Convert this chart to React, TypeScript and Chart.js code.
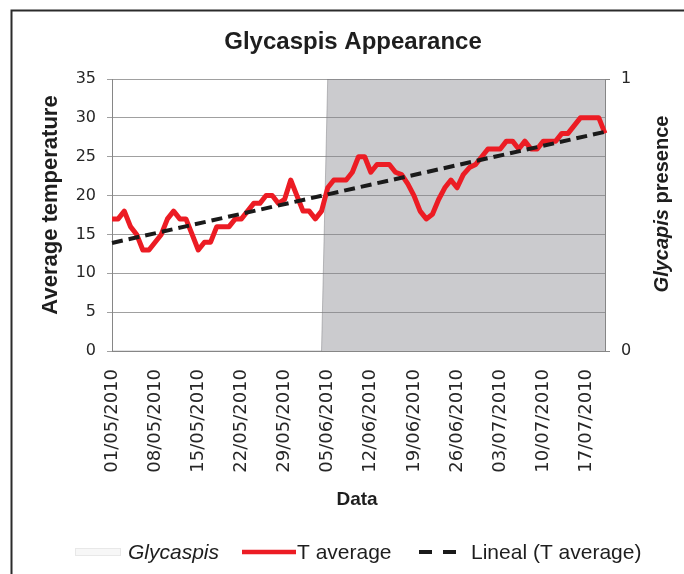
import React, { useEffect, useRef } from "react";
import { Chart, registerables } from "chart.js";

Chart.register(...registerables);

// ---- data ----
const startDay = { year: 2010, month: 5, day: 1 }; // 01/05/2010
const tAverage = [
  17, 17, 18, 16, 15, 13, 13, 14, 15, 17,
  18, 17, 17, 15, 13, 14, 14, 16, 16, 16,
  17, 17, 18, 19, 19, 20, 20, 19, 19.5, 22,
  20, 18, 18, 17, 18, 21, 22, 22, 22, 23,
  25, 25, 23, 24, 24, 24, 23, 22.7, 21.5, 20,
  18, 17, 17.6, 19.5, 21, 22, 21, 22.7, 23.6, 24,
  25, 26, 26, 26, 27, 27, 26, 27, 26, 26,
  27, 27, 27, 28, 28, 29, 30, 30, 30, 30,
  28,
];
const glycaspisFirstDate = "05/06/2010";
const trendStart = 13.9;
const trendEnd = 28.2;
const tempMin = 0;
const tempMax = 35;
const tempStep = 5;
const presenceMin = 0;
const presenceMax = 1;
const labelEvery = 7;

const titleText = "Glycaspis Appearance";
const yTitle = "Average temperature";
const y1TitleItalic = "Glycapis";
const y1TitleRest = " presence";
const xTitle = "Data";
const legendNames = ["Glycaspis", "T average", "Lineal (T average)"];

const pad = (n: number) => (n < 10 ? "0" + n : "" + n);
const dates = tAverage.map((_, i) => {
  const d = new Date(startDay.year, startDay.month - 1, startDay.day + i);
  return pad(d.getDate()) + "/" + pad(d.getMonth() + 1) + "/" + d.getFullYear();
});
const firstIdx = dates.indexOf(glycaspisFirstDate);
const glycaspisPresence = dates.map((_, i) => (i >= firstIdx ? 1 : 0));
const trend = tAverage.map((_, i) =>
  i === 0 ? trendStart : i === tAverage.length - 1 ? trendEnd : null
);

const RED = "rgb(236,28,36)";
const DARK = "#1e1e1e";
const TICK = "#262626";
const AXIS = "#868686";

const decorPlugin = {
  id: "decor",
  beforeDraw(chart: any) {
    const ctx = chart.ctx;
    ctx.save();
    ctx.fillStyle = "#ffffff";
    ctx.fillRect(0, 0, chart.width, chart.height);
    ctx.restore();
  },
  afterDraw(chart: any) {
    const ctx = chart.ctx as CanvasRenderingContext2D;
    ctx.save();
    // frame
    ctx.strokeStyle = "#2b2b2b";
    ctx.lineWidth = 2;
    ctx.strokeRect(11.5, 10.5, 720, 620);

    // title
    ctx.fillStyle = DARK;
    ctx.textBaseline = "alphabetic";
    ctx.textAlign = "center";
    ctx.font = "bold 24px 'Liberation Sans', Arial, sans-serif";
    ctx.fillText(titleText, 353, 49);

    // x title
    ctx.font = "bold 19px 'Liberation Sans', Arial, sans-serif";
    ctx.fillText(xTitle, 357, 505);

    // left y title
    ctx.save();
    ctx.translate(57, 205);
    ctx.rotate(-Math.PI / 2);
    ctx.font = "bold 22px 'Liberation Sans', Arial, sans-serif";
    ctx.textAlign = "center";
    ctx.fillText(yTitle, 0, 0);
    ctx.restore();

    // right y title (mixed italic)
    ctx.save();
    ctx.translate(668, 204);
    ctx.rotate(-Math.PI / 2);
    ctx.textAlign = "left";
    const fItal = "italic bold 20px 'Liberation Sans', Arial, sans-serif";
    const fReg = "bold 20px 'Liberation Sans', Arial, sans-serif";
    ctx.font = fItal;
    const w1 = ctx.measureText(y1TitleItalic).width;
    ctx.font = fReg;
    const w2 = ctx.measureText(y1TitleRest).width;
    const x0 = -(w1 + w2) / 2;
    ctx.font = fItal;
    ctx.fillText(y1TitleItalic, x0, 0);
    ctx.font = fReg;
    ctx.fillText(y1TitleRest, x0 + w1, 0);
    ctx.restore();

    // legend
    const ly = 552;
    const base = 559;
    ctx.fillStyle = "#f7f7f7";
    ctx.fillRect(75, ly - 4, 45, 8);
    ctx.strokeStyle = "#e8e8e8";
    ctx.lineWidth = 1;
    ctx.strokeRect(75.5, ly - 3.5, 45, 7);

    ctx.fillStyle = DARK;
    ctx.textAlign = "left";
    ctx.font = "italic 21px 'Liberation Sans', Arial, sans-serif";
    ctx.fillText(legendNames[0], 128, base);

    ctx.strokeStyle = RED;
    ctx.lineWidth = 4.5;
    ctx.beginPath();
    ctx.moveTo(242, ly);
    ctx.lineTo(296, ly);
    ctx.stroke();
    ctx.font = "21px 'Liberation Sans', Arial, sans-serif";
    ctx.fillText(legendNames[1], 297, base);

    ctx.strokeStyle = "#1a1a1a";
    ctx.lineWidth = 4;
    ctx.setLineDash([13, 11]);
    ctx.beginPath();
    ctx.moveTo(419, ly);
    ctx.lineTo(456, ly);
    ctx.stroke();
    ctx.setLineDash([]);
    ctx.fillText(legendNames[2], 471, base);
    ctx.restore();
  },
};

export default function App() {
  const ref = useRef<HTMLCanvasElement | null>(null);
  useEffect(() => {
    if (!ref.current) return;
    const chart = new Chart(ref.current, {
      type: "line",
      data: {
        labels: dates,
        datasets: [
          {
            label: legendNames[2],
            data: trend as any,
            yAxisID: "y",
            borderColor: "#1a1a1a",
            borderWidth: 4,
            borderDash: [11, 6],
            pointRadius: 0,
            spanGaps: true,
            fill: false,
          },
          {
            label: legendNames[1],
            data: tAverage,
            yAxisID: "y",
            borderColor: RED,
            borderWidth: 5,
            pointRadius: 0,
            tension: 0,
            fill: false,
            borderJoinStyle: "round",
          },
          {
            label: legendNames[0],
            data: glycaspisPresence,
            yAxisID: "y1",
            borderColor: "rgba(120,120,125,0.45)",
            borderWidth: 1,
            backgroundColor: "rgba(128,128,136,0.41)",
            pointRadius: 0,
            tension: 0,
            fill: "origin",
          },
        ],
      },
      options: {
        responsive: false,
        animation: false,
        devicePixelRatio: 1,
        layout: { padding: { top: 79, left: 0, right: 0, bottom: 0 } },
        plugins: {
          legend: { display: false },
          title: { display: false },
          tooltip: { enabled: false },
        },
        scales: {
          x: {
            type: "category",
            offset: false,
            grid: { display: false, drawTicks: false },
            border: { display: true, color: AXIS, width: 1 },
            ticks: {
              autoSkip: false,
              maxRotation: 90,
              minRotation: 90,
              padding: 18,
              color: TICK,
              font: { family: "'DejaVu Sans'", size: 18 },
              callback: (_v: any, i: number) => (i % labelEvery === 0 ? dates[i] : ""),
            },
            afterFit: (s: any) => {
              s.height = 223;
            },
          },
          y: {
            position: "left",
            min: tempMin,
            max: tempMax,
            ticks: {
              stepSize: tempStep,
              padding: 11,
              color: TICK,
              font: { family: "'DejaVu Sans'", size: 16 },
            },
            grid: { color: "#a0a0a0", lineWidth: 1, tickLength: 5, drawTicks: true },
            border: { display: true, color: AXIS, width: 1 },
            afterFit: (s: any) => {
              s.width = 112;
            },
          },
          y1: {
            position: "right",
            min: presenceMin,
            max: presenceMax,
            ticks: {
              stepSize: 1,
              padding: 11,
              color: TICK,
              font: { family: "'DejaVu Sans'", size: 16 },
            },
            grid: { drawOnChartArea: false, color: AXIS, tickLength: 5, drawTicks: true },
            border: { display: true, color: AXIS, width: 1 },
            afterFit: (s: any) => {
              s.width = 79;
            },
          },
        },
      } as any,
      plugins: [decorPlugin],
    });
    return () => chart.destroy();
  }, []);
  return (
    <div style={{ position: "absolute", left: 0, top: 0, width: 684, height: 574 }}>
      <canvas ref={ref} width={684} height={574} style={{ display: "block", width: 684, height: 574 }} />
    </div>
  );
}
